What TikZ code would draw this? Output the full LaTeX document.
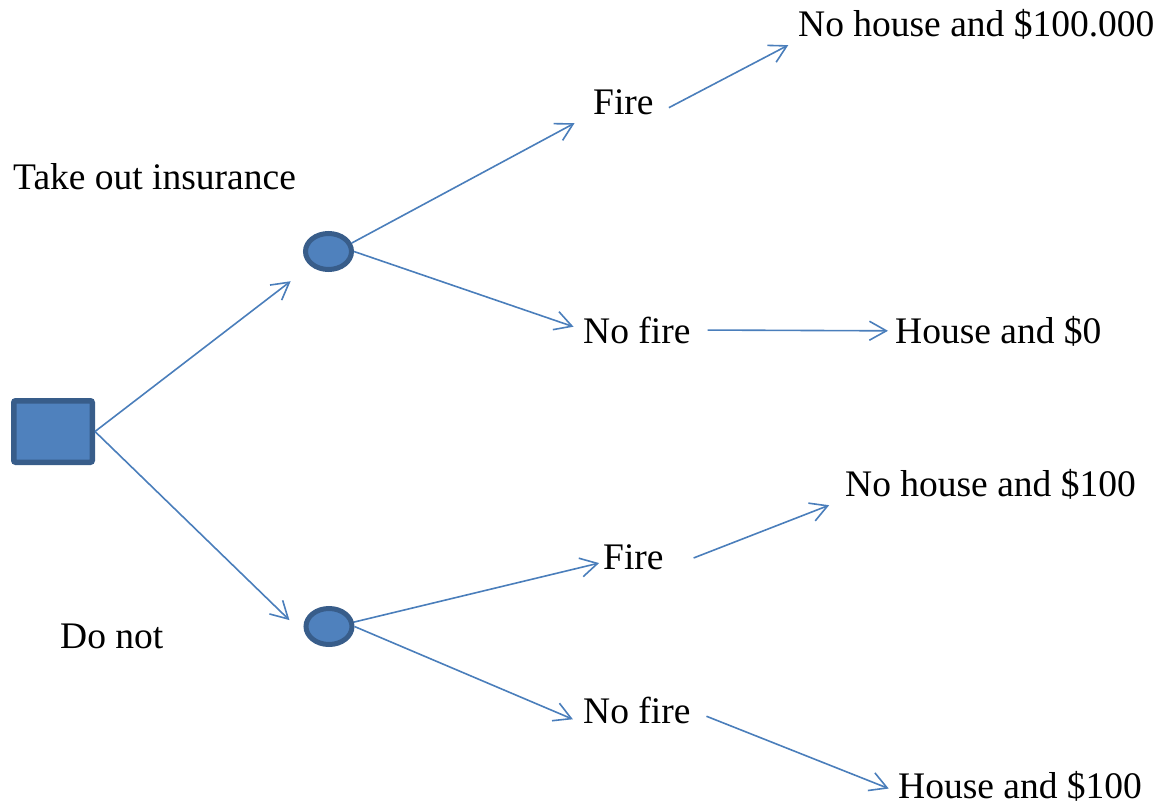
\documentclass[tikz,border=0pt]{standalone}
\usepackage{fontspec}
\setmainfont{Liberation Serif}
\usepackage{tikz}
\usetikzlibrary{shapes.geometric,arrows.meta}
\definecolor{azul}{HTML}{4F81BD}
\definecolor{azuloscuro}{HTML}{385D8A}
\definecolor{linea}{HTML}{4A7EBB}

\begin{document}
\begin{tikzpicture}[x=1pt,y=-1pt,
  decision/.style={draw=azuloscuro,fill=azul,line width=5.5pt,rounded corners=2pt,
                   minimum width=78.5pt,minimum height=61.5pt,inner sep=0pt},
  azar/.style={ellipse,draw=azuloscuro,fill=azul,line width=5pt,
               minimum width=46pt,minimum height=36pt,inner sep=0pt},
  texto/.style={anchor=base west,inner sep=0pt,font=\fontsize{37.5pt}{44pt}\selectfont},
  rama/.style={-{Straight Barb[length=17pt,width=19pt]},draw=linea,line width=1.6pt}
]
\useasboundingbox (0,0) rectangle (1157,805);
\node[decision] (raiz) at (53,431.5) {};
\node[azar] (c1) at (328.5,251.5) {};
\node[azar] (c2) at (329,626.5) {};
\node[texto] (seguro) at (13,190) {Take out insurance};
\node[texto] (nada) at (60,648) {Do not};
\node[texto] (fuego1) at (593,115) {Fire};
\node[texto] (nofuego1) at (583,343) {No fire};
\node[texto] (fuego2) at (603,569) {Fire};
\node[texto] (nofuego2) at (583,723) {No fire};
\node[texto] (res1) at (798,37) {No house and \$100.000};
\node[texto] (res2) at (895,343) {House and \$0};
\node[texto] (res3) at (845,496) {No house and \$100};
\node[texto] (res4) at (898,798) {House and \$100};
\draw[rama,shorten >=25pt] (raiz.east) -- (c1.south west);
\draw[rama,shorten >=30pt] (raiz.east) -- (c2.south west);
\draw[rama,shorten >=21pt] (c1.20) -- (fuego1.199);
\draw[rama,shorten >=10pt] (c1.east) -- (nofuego1.west);
\draw[rama,shorten <=17pt,shorten >=11pt] (fuego1.south east) -- (res1.south west);
\draw[rama,shorten <=17pt,shorten >=7pt] (nofuego1.east) -- (res2.west);
\draw[rama,shorten >=4pt] (c2.10) -- (fuego2.190);
\draw[rama,shorten >=11pt] (c2.east) -- (nofuego2.south west);
\draw[rama,shorten <=32pt,shorten >=17pt] (fuego2.south east) -- (res3.south west);
\draw[rama,shorten <=17pt,shorten >=10pt] (nofuego2.east) -- (res4.183);
\end{tikzpicture}
\end{document}
